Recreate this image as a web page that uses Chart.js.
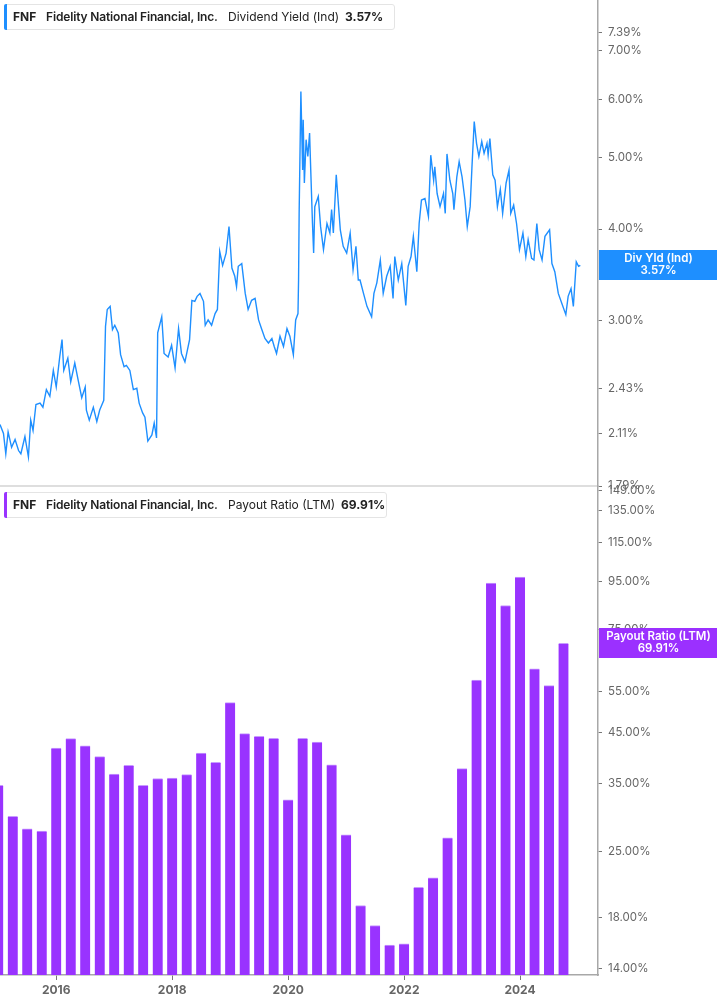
<!DOCTYPE html>
<html>
<head>
<meta charset="utf-8">
<script src="https://cdn.jsdelivr.net/npm/chart.js@4.4.1/dist/chart.umd.min.js"></script>
<style>
  html, body { margin:0; padding:0; background:#fff; }
  body { width:717px; height:1005px; position:relative; overflow:hidden; font-family:Inter, "Open Sans", sans-serif; }
  canvas { position:absolute; left:0; }
  .legend { position:absolute; left:4px; height:26px; border:1px solid #e4e4e4; border-radius:3px;
            background:#fff; box-sizing:border-box; font-size:12px; color:#222; }
  .legend span { position:absolute; top:0; line-height:24px; white-space:nowrap; }
  .legend .b { font-weight:700; }
  .legend .co { font-weight:600; letter-spacing:-0.15px; }
  .legend .bar { position:absolute; left:-1px; top:-1px; bottom:-1px; width:3px; border-radius:2px 0 0 2px; }
</style>
</head>
<body>
<canvas id="divChart" width="717" height="497" style="top:0"></canvas>
<canvas id="payChart" width="717" height="528" style="top:477px"></canvas>

<div class="legend" style="top:4px;width:391px">
  <div class="bar" style="background:#1e8fff"></div>
  <span class="b" style="left:8px">FNF</span>
  <span class="co" style="left:41px">Fidelity National Financial, Inc.</span>
  <span style="left:223px">Dividend Yield (Ind)</span>
  <span class="b" style="left:340px">3.57%</span>
</div>
<div class="legend" style="top:492px;width:383px">
  <div class="bar" style="background:#9933ff"></div>
  <span class="b" style="left:8px">FNF</span>
  <span class="co" style="left:41px">Fidelity National Financial, Inc.</span>
  <span style="left:223px">Payout Ratio (LTM)</span>
  <span class="b" style="left:336px">69.91%</span>
</div>

<script>
// ---- data (dates as fractional years) ----
const divYears = [
  2015.03, 2015.09, 2015.13, 2015.17, 2015.23, 2015.29, 2015.35, 2015.39, 2015.46, 2015.52,
  2015.56, 2015.60, 2015.65, 2015.72, 2015.77, 2015.83, 2015.89, 2015.95, 2016.00, 2016.06,
  2016.10, 2016.13, 2016.20, 2016.25, 2016.32, 2016.38, 2016.44, 2016.50, 2016.52, 2016.57,
  2016.64, 2016.70, 2016.75, 2016.82, 2016.85, 2016.88, 2016.93, 2016.97, 2017.01, 2017.07,
  2017.11, 2017.17, 2017.21, 2017.27, 2017.33, 2017.39, 2017.43, 2017.49, 2017.53, 2017.58,
  2017.65, 2017.69, 2017.73, 2017.75, 2017.82, 2017.86, 2017.93, 2017.99, 2018.05, 2018.11,
  2018.16, 2018.22, 2018.30, 2018.34, 2018.39, 2018.43, 2018.48, 2018.54, 2018.57, 2018.62,
  2018.68, 2018.74, 2018.78, 2018.80, 2018.82, 2018.87, 2018.93, 2018.98, 2019.03, 2019.08,
  2019.11, 2019.14, 2019.20, 2019.26, 2019.31, 2019.37, 2019.43, 2019.49, 2019.54, 2019.60,
  2019.66, 2019.72, 2019.76, 2019.80, 2019.86, 2019.92, 2019.98, 2020.03, 2020.09, 2020.13,
  2020.17, 2020.18, 2020.19, 2020.22, 2020.25, 2020.26, 2020.28, 2020.31, 2020.34, 2020.37,
  2020.39, 2020.42, 2020.44, 2020.46, 2020.52, 2020.56, 2020.61, 2020.67, 2020.72, 2020.75,
  2020.78, 2020.83, 2020.87, 2020.90, 2020.95, 2021.01, 2021.07, 2021.12, 2021.17, 2021.21,
  2021.24, 2021.30, 2021.36, 2021.44, 2021.48, 2021.53, 2021.59, 2021.64, 2021.70, 2021.76,
  2021.81, 2021.84, 2021.90, 2021.96, 2022.03, 2022.07, 2022.12, 2022.16, 2022.22, 2022.26,
  2022.30, 2022.36, 2022.42, 2022.46, 2022.51, 2022.53, 2022.57, 2022.62, 2022.68, 2022.71,
  2022.74, 2022.79, 2022.84, 2022.86, 2022.91, 2022.95, 2023.00, 2023.05, 2023.09, 2023.14,
  2023.17, 2023.21, 2023.25, 2023.29, 2023.34, 2023.38, 2023.43, 2023.45, 2023.48, 2023.53,
  2023.57, 2023.61, 2023.66, 2023.70, 2023.76, 2023.81, 2023.84, 2023.89, 2023.94, 2023.99,
  2024.05, 2024.10, 2024.14, 2024.20, 2024.24, 2024.29, 2024.33, 2024.38, 2024.43, 2024.51,
  2024.55, 2024.60, 2024.66, 2024.72, 2024.79, 2024.83, 2024.88, 2024.92, 2024.97, 2025.01,
  2025.04
];
const divYield = [
  2.17, 2.11, 1.98, 2.12, 2.02, 2.07, 2.00, 1.98, 2.09, 1.96,
  2.20, 2.13, 2.31, 2.32, 2.29, 2.42, 2.37, 2.57, 2.44, 2.68,
  2.83, 2.57, 2.67, 2.48, 2.63, 2.49, 2.36, 2.44, 2.27, 2.20,
  2.29, 2.19, 2.27, 2.34, 2.95, 3.11, 3.14, 2.92, 2.96, 2.89,
  2.70, 2.60, 2.61, 2.57, 2.42, 2.43, 2.32, 2.25, 2.22, 2.06,
  2.10, 2.18, 2.08, 2.89, 3.04, 2.71, 2.68, 2.78, 2.59, 2.93,
  2.71, 2.64, 2.83, 3.20, 3.19, 3.24, 3.27, 3.19, 2.96, 3.01,
  2.96, 3.07, 3.11, 3.41, 3.73, 3.57, 3.71, 4.03, 3.54, 3.45,
  3.34, 3.56, 3.59, 3.27, 3.11, 3.20, 3.22, 3.01, 2.93, 2.84,
  2.80, 2.84, 2.77, 2.71, 2.86, 2.77, 2.93, 2.86, 2.70, 3.01,
  3.07, 3.41, 4.20, 6.15, 4.81, 5.63, 4.62, 5.29, 5.02, 5.40,
  4.81, 4.07, 3.71, 4.29, 4.43, 4.03, 3.75, 4.07, 3.95, 4.25,
  3.95, 4.74, 4.29, 3.99, 3.79, 3.71, 3.95, 3.52, 3.79, 3.41,
  3.41, 3.27, 3.14, 3.04, 3.27, 3.38, 3.63, 3.27, 3.45, 3.56,
  3.22, 3.67, 3.41, 3.59, 3.15, 3.56, 3.67, 3.91, 3.50, 4.07,
  4.38, 4.40, 4.16, 5.04, 4.66, 4.86, 4.47, 4.29, 4.47, 4.20,
  5.06, 4.66, 4.47, 4.25, 4.71, 4.94, 4.71, 4.38, 4.03, 4.29,
  4.84, 5.60, 5.23, 5.02, 5.26, 5.07, 5.23, 5.04, 5.31, 4.74,
  4.66, 4.29, 4.53, 4.20, 4.62, 4.81, 4.20, 4.31, 4.07, 3.75,
  3.95, 3.67, 3.87, 3.65, 3.63, 4.07, 3.75, 3.63, 3.91, 3.99,
  3.59, 3.50, 3.27, 3.17, 3.06, 3.24, 3.32, 3.14, 3.61, 3.56,
  3.57
];

// quarter ends, payout ratio LTM (%)
const payoutQuarters = [
  2015.00, 2015.25, 2015.50, 2015.75, 2016.00, 2016.25, 2016.50, 2016.75,
  2017.00, 2017.25, 2017.50, 2017.75, 2018.00, 2018.25, 2018.50, 2018.75,
  2019.00, 2019.25, 2019.50, 2019.75, 2020.00, 2020.25, 2020.50, 2020.75,
  2021.00, 2021.25, 2021.50, 2021.75, 2022.00, 2022.25, 2022.50, 2022.75,
  2023.00, 2023.25, 2023.50, 2023.75, 2024.00, 2024.25, 2024.50, 2024.75
];
const payoutRatio = [
  34.6, 29.7, 27.9, 27.6, 41.6, 43.6, 42.1, 39.9,
  36.6, 38.2, 34.6, 35.8, 35.9, 36.5, 40.6, 38.8,
  52.1, 44.7, 44.1, 43.7, 32.2, 43.7, 42.9, 38.3,
  27.1, 19.1, 17.3, 15.7, 15.8, 20.9, 21.9, 26.7,
  37.6, 58.3, 94.2, 84.3, 97.0, 61.6, 56.7, 69.91
];

const yearTicks = [2016, 2018, 2020, 2022, 2024];
const yieldTicks = [7.39, 7.00, 6.00, 5.00, 4.00, 3.00, 2.43, 2.11, 1.79];
const payoutTicks = [149, 135, 115, 95, 75, 55, 45, 35, 25, 18, 14];

const X_MIN = 2015.03, X_MAX = 2025.345;
const BLUE = '#1e8fff', PURPLE = '#9933ff';

// value tag on the right axis
const valueTag = {
  id: 'valueTag',
  afterDraw(chart, args, opts) {
    const y = chart.scales.y, ctx = chart.ctx;
    const py = Math.round(y.getPixelForValue(opts.value));
    ctx.save();
    ctx.fillStyle = opts.color;
    ctx.fillRect(y.left + 1, py - 15, y.right - y.left - 1, 30);
    ctx.fillStyle = '#fff';
    ctx.font = '600 11.5px Inter';
    ctx.textAlign = 'center';
    ctx.textBaseline = 'middle';
    const cx = (y.left + y.right) / 2 + 1;
    ctx.fillText(opts.label, cx, py - 6);
    ctx.fillText(opts.text, cx, py + 6);
    ctx.restore();
  }
};

function yAxis(min, max, tickVals) {
  return {
    type: 'logarithmic', position: 'right', min, max, bounds: 'data',
    afterBuildTicks: s => { s.ticks = tickVals.map(v => ({ value: v })); },
    afterFit: s => { s.width = 119; s.paddingTop = 0; s.paddingBottom = 0; },
    border: { color: '#a8a8a8', width: 1.5 },
    grid: { drawOnChartArea: false, drawTicks: true, tickLength: 4, tickColor: '#777' },
    ticks: { autoSkip: false, padding: 6, color: '#666', font: { family: 'Inter', size: 11.5 },
             callback: v => Number(v).toFixed(2) + '%' }
  };
}

Chart.defaults.font.family = 'Inter';

new Chart(document.getElementById('divChart'), {
  type: 'line',
  data: {
    datasets: [{
      data: divYears.map((x, i) => ({ x, y: divYield[i] })),
      borderColor: BLUE, borderWidth: 1.4, pointRadius: 0, tension: 0, fill: false
    }]
  },
  options: {
    responsive: false, animation: false, devicePixelRatio: 1,
    layout: { padding: 0 },
    plugins: { legend: { display: false }, tooltip: { enabled: false },
      valueTag: { value: 3.57, color: BLUE, label: 'Div Yld (Ind)', text: '3.57%' } },
    scales: {
      x: { type: 'linear', min: X_MIN, max: X_MAX, bounds: 'data', offset: false,
           afterFit: s => { s.height = 11; s.paddingLeft = 0; s.paddingRight = 0; },
           ticks: { display: false }, grid: { display: false },
           border: { color: '#dedede', width: 2 } },
      y: yAxis(1.79, 8.19, yieldTicks)
    }
  },
  plugins: [valueTag]
});

new Chart(document.getElementById('payChart'), {
  type: 'bar',
  data: {
    datasets: [{
      data: payoutQuarters.map((x, i) => ({ x, y: payoutRatio[i] })),
      backgroundColor: PURPLE, borderColor: '#c79bff',
      borderWidth: { top: 1, left: 0, right: 0, bottom: 0 }, borderSkipped: 'bottom',
      barThickness: 10
    }]
  },
  options: {
    responsive: false, animation: false, devicePixelRatio: 1,
    layout: { padding: { top: 10, left: 0, right: 0, bottom: 0 } },
    plugins: { legend: { display: false }, tooltip: { enabled: false },
      valueTag: { value: 69.91, color: '#9b30ff', label: 'Payout Ratio (LTM)', text: '69.91%' } },
    scales: {
      x: { type: 'linear', min: X_MIN, max: X_MAX, bounds: 'data', offset: false,
           afterBuildTicks: s => { s.ticks = yearTicks.map(v => ({ value: v })); },
           afterFit: s => { s.height = 30; s.paddingLeft = 0; s.paddingRight = 0; },
           border: { color: '#a8a8a8', width: 1.5 },
           grid: { offset: false, drawOnChartArea: false, drawTicks: true, tickLength: 5, tickColor: '#777' },
           ticks: { autoSkip: false, maxRotation: 0, padding: 3, color: '#666',
                    font: { family: 'Inter', size: 12, weight: 'bold' }, callback: v => String(v) } },
      y: Object.assign(yAxis(13.54, 151.5, payoutTicks), { beginAtZero: false })
    }
  },
  plugins: [valueTag]
});
</script>
</body>
</html>
